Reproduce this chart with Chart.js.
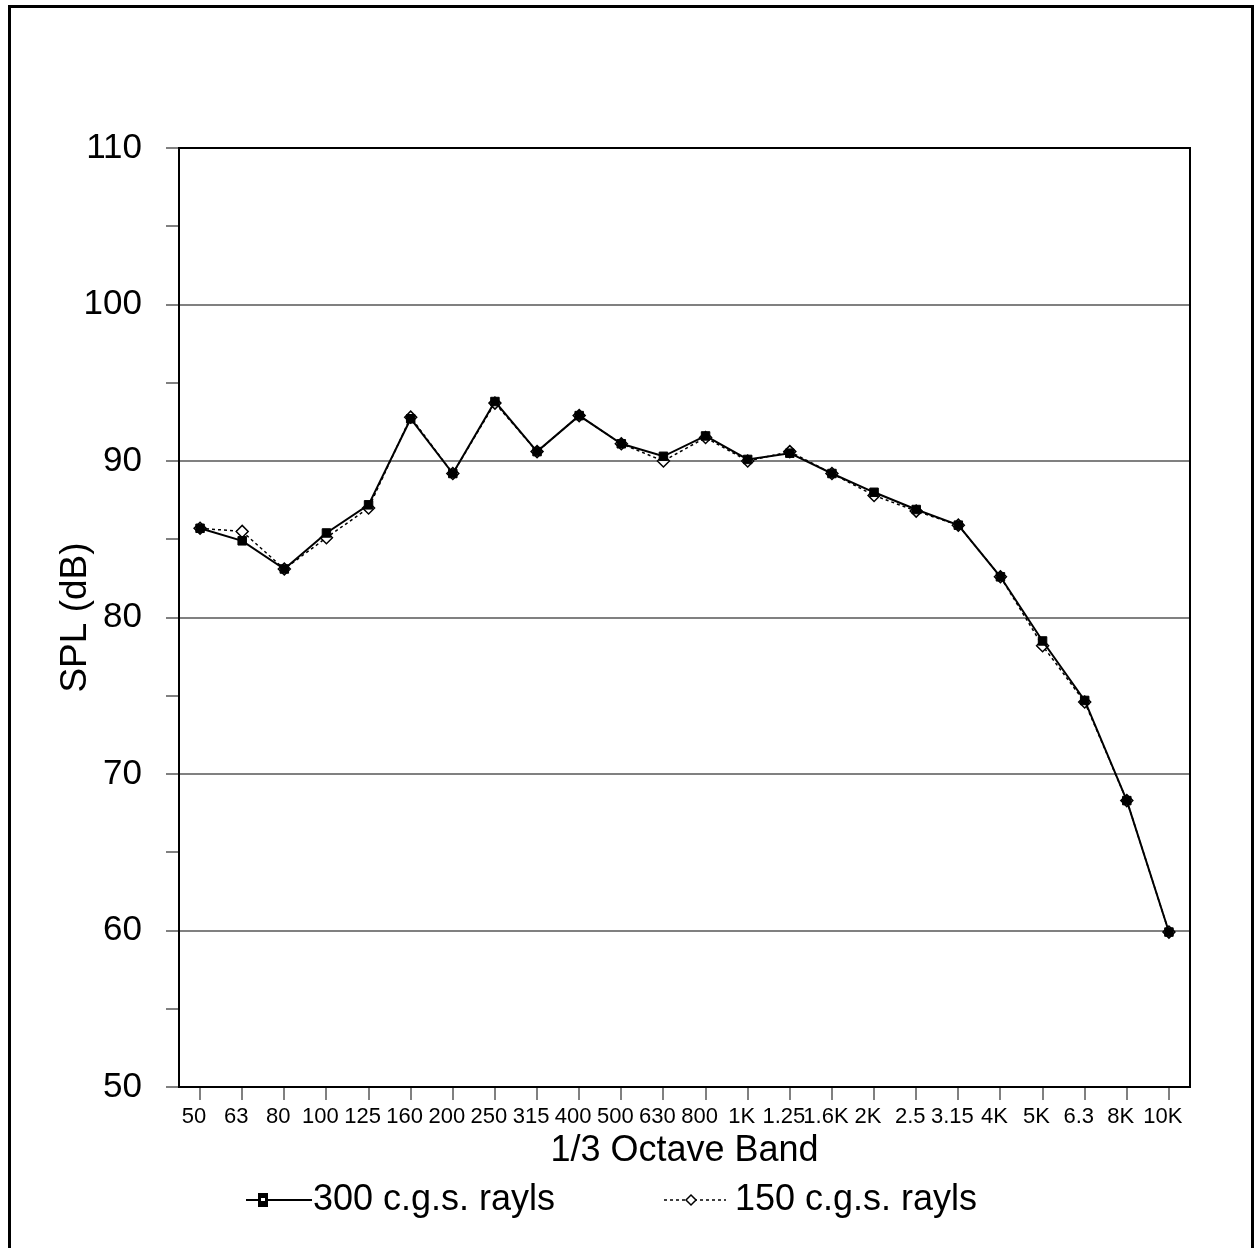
<!DOCTYPE html>
<html>
<head>
<meta charset="utf-8">
<script src="https://cdn.jsdelivr.net/npm/chart.js@4.4.1/dist/chart.umd.min.js"></script>
<style>
  html, body { margin: 0; padding: 0; background: #fff; }
  canvas { display: block; }
</style>
</head>
<body>
<canvas id="spl" width="1254" height="1248"></canvas>
<script>
// 1/3 octave band centres (as printed under the axis)
const bandas = ['50','63','80','100','125','160','200','250','315','400','500','630','800',
                '1K','1.25','1.6K','2K','2.5','3.15','4K','5K','6.3','8K','10K'];

// SPL readings in dB
const rayls300 = [85.7, 84.9, 83.1, 85.4, 87.2, 92.7, 89.2, 93.8, 90.6, 92.9, 91.1, 90.3, 91.6,
                  90.1, 90.5, 89.2, 88.0, 86.9, 85.9, 82.6, 78.5, 74.7, 68.3, 59.9];
const rayls150 = [85.7, 85.5, 83.1, 85.1, 87.0, 92.8, 89.2, 93.7, 90.6, 92.9, 91.1, 90.0, 91.5,
                  90.0, 90.6, 89.2, 87.8, 86.8, 85.9, 82.6, 78.2, 74.6, 68.3, 59.9];

const nombres = ['300 c.g.s. rayls', '150 c.g.s. rayls'];

const fuente = '"Liberation Sans", Arial, sans-serif';

// white page + outer frame, plot frame, hand made legend
const marco = {
  id: 'marco',
  beforeDraw(chart) {
    const c = chart.ctx;
    c.save();
    c.fillStyle = '#fff';
    c.fillRect(0, 0, chart.width, chart.height);
    c.strokeStyle = '#000';
    c.lineWidth = 3;
    c.strokeRect(9.5, 6.5, 1243, 1250);
    c.restore();
  },
  afterDraw(chart) {
    const c = chart.ctx;
    const a = chart.chartArea;
    c.save();
    c.strokeStyle = '#000';
    c.lineWidth = 2;
    c.strokeRect(a.left, a.top, a.right - a.left, a.bottom - a.top);

    // legend
    const y = 1200;
    c.lineWidth = 2;
    c.setLineDash([]);
    c.beginPath(); c.moveTo(246, y); c.lineTo(312, y); c.stroke();
    c.fillStyle = '#000';
    c.fillRect(258, y - 7, 10, 14);
    c.fillStyle = '#fff';
    c.fillRect(261, y - 2, 4, 3);

    c.lineWidth = 1.5;
    c.setLineDash([3, 3]);
    c.beginPath(); c.moveTo(664, y); c.lineTo(726, y); c.stroke();
    c.setLineDash([]);
    c.fillStyle = '#fff';
    c.beginPath();
    c.moveTo(691, y - 5); c.lineTo(696, y); c.lineTo(691, y + 5); c.lineTo(686, y); c.closePath();
    c.fill(); c.stroke();

    c.fillStyle = '#000';
    c.font = '36px ' + fuente;
    c.textBaseline = 'middle';
    c.fillText(nombres[0], 313, y);
    c.fillText(nombres[1], 735, y);
    c.restore();
  }
};

const ctx = document.getElementById('spl').getContext('2d');
const grafico = new Chart(ctx, {
  type: 'line',
  data: {
    labels: bandas,
    datasets: [{
      label: nombres[0],
      data: rayls300,
      borderColor: '#000',
      backgroundColor: '#000',
      borderWidth: 2,
      pointStyle: 'rect',
      pointRadius: 6,
      pointBorderWidth: 1,
      tension: 0
    }, {
      label: nombres[1],
      data: rayls150,
      borderColor: '#000',
      backgroundColor: '#fff',
      borderWidth: 1.5,
      borderDash: [3, 3],
      pointStyle: 'rectRot',
      pointRadius: 6,
      pointBorderWidth: 1.5,
      tension: 0
    }]
  },
  options: {
    responsive: false,
    animation: false,
    devicePixelRatio: 1,
    layout: { padding: { top: 148, right: 64, left: 50, bottom: 71 } },
    plugins: {
      legend: { display: false },
      tooltip: { enabled: false }
    },
    scales: {
      x: {
        offset: true,
        afterFit(s) { s.height = 90; },
        grid: {
          offset: false,
          drawOnChartArea: false,
          tickLength: 13,
          tickColor: '#808080',
          lineWidth: 2
        },
        border: { color: '#000', width: 2 },
        ticks: {
          color: '#000',
          autoSkip: false,
          maxRotation: 0,
          labelOffset: -6,
          padding: 4,
          font: { family: '"Liberation Sans Narrow", "Arial Narrow", "Liberation Sans", Arial', size: 22 }
        },
        title: {
          display: true,
          text: '1/3 Octave Band',
          color: '#000',
          font: { family: fuente, size: 36 }
        }
      },
      y: {
        min: 50,
        max: 110,
        afterFit(s) { s.width = 129; },
        grid: {
          color: (c) => {
            const v = c.tick ? c.tick.value : null;
            return (v !== null && v % 10 === 0 && v > 50 && v < 110) ? '#808080' : 'rgba(0,0,0,0)';
          },
          tickColor: '#808080',
          tickLength: 13,
          lineWidth: 2
        },
        border: { color: '#000', width: 2 },
        ticks: {
          stepSize: 5,
          color: '#000',
          padding: 24,
          callback: (v) => (v % 10 === 0 ? v : ''),
          font: { family: fuente, size: 35 }
        },
        title: {
          display: true,
          text: 'SPL (dB)',
          color: '#000',
          font: { family: fuente, size: 37 }
        }
      }
    }
  },
  plugins: [marco]
});
</script>
</body>
</html>
